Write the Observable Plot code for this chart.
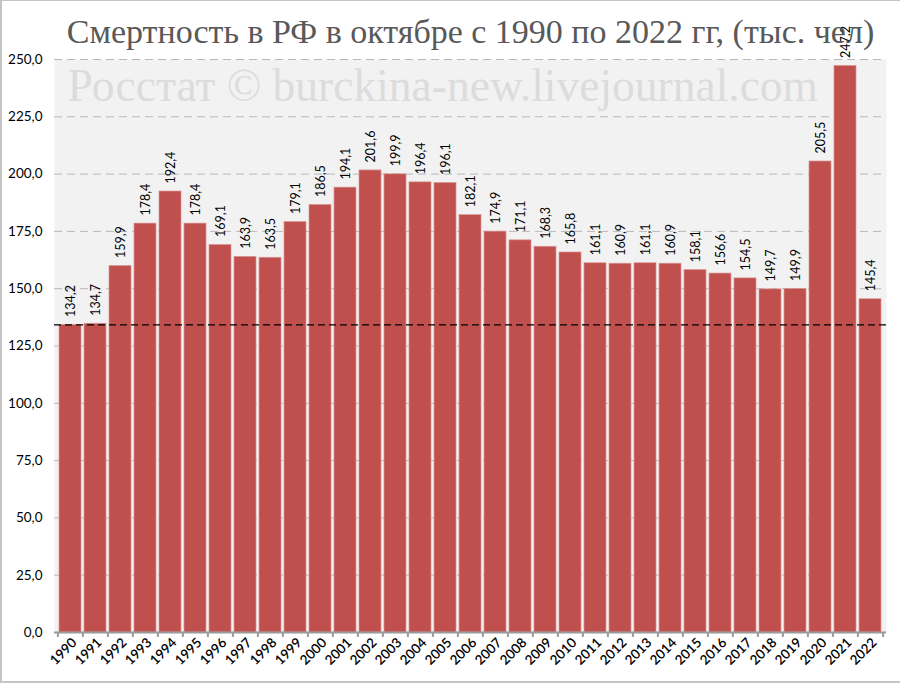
<!DOCTYPE html>
<html><head><meta charset="utf-8">
<script src="https://cdn.jsdelivr.net/npm/d3@7"></script>
<script src="https://cdn.jsdelivr.net/npm/@observablehq/plot@0.6"></script>
<style>
body{margin:0;background:#fff;}
#wrap{position:relative;width:900px;height:683px;overflow:hidden;}
#border{position:absolute;left:0;top:0;width:898px;height:680px;border-left:2px solid #c4c4c4;border-top:1px solid #c4c4c4;border-bottom:2px solid #c4c4c4;pointer-events:none;}
</style></head>
<body><div id="wrap"><div id="border"></div></div>
<script>
const years = ["1990","1991","1992","1993","1994","1995","1996","1997","1998","1999","2000","2001","2002","2003","2004","2005","2006","2007","2008","2009","2010","2011","2012","2013","2014","2015","2016","2017","2018","2019","2020","2021","2022"];
const deaths = [134.2,134.7,159.9,178.4,192.4,178.4,169.1,163.9,163.5,179.1,186.5,194.1,201.6,199.9,196.4,196.1,182.1,174.9,171.1,168.3,165.8,161.1,160.9,161.1,160.9,158.1,156.6,154.5,149.7,149.9,205.5,247.2,145.4];
const yTicks = [0,25,50,75,100,125,150,175,200,225,250];
const baseline = 134.2;
const title = "Смертность в РФ в октябре с 1990 по 2022 гг, (тыс. чел)";
const watermark = "Росстат © burckina-new.livejournal.com";

const data = years.map((y,i)=>({year:y, value:deaths[i]}));
const fmt = v => v.toFixed(1).replace(".", ",");

const W = 900, H = 683, ML = 54, MR = 14, MT = 59, MB = 51;
const PI = 0.12, PO = 0.06;
const step = (W - ML - MR) / (years.length - PI + 2 * PO);

const chart = Plot.plot({
  width: W, height: H,
  marginTop: MT, marginBottom: MB, marginLeft: ML, marginRight: MR,
  style: {fontFamily: "Lato, sans-serif", fontSize: "13px", background: "transparent", overflow: "visible"},
  x: {domain: years, paddingInner: PI, paddingOuter: PO, label: null},
  y: {domain: [0, 250], label: null},
  marks: [
    Plot.frame({fill: "#f2f2f2", stroke: null}),
    Plot.text([watermark], {frameAnchor: "top-left", lineAnchor: "middle", dx: 13, dy: 27, fill: "#dcdcdc", fontSize: 45.5, fontFamily: "Liberation Serif, serif", textAnchor: "start"}),
    Plot.gridY(yTicks.filter(d => d > 0), {stroke: "#b8b8b8", strokeOpacity: 1, strokeDasharray: "8,5", strokeWidth: 1}),
    Plot.barY(data, {x: "year", y: "value", fill: "#c0504d", stroke: "#d99694", strokeWidth: 0.7}),
    Plot.ruleY([baseline], {stroke: "#000", strokeWidth: 1.2, strokeDasharray: "7,4"}),
    Plot.text(data, {x: "year", y: "value", text: d => fmt(d.value), rotate: -90, textAnchor: "start", dy: -8, fontSize: 12.5, fontFamily: "Lato, sans-serif", fill: "#000"}),
    Plot.ruleY([0], {stroke: "#9a9a9a", strokeWidth: 2}),
    Plot.axisX({tickSize: 5, text: null, dx: -step / 2, stroke: "#9a9a9a", strokeWidth: 2}),
    Plot.axisX({ticks: [years[years.length - 1]], tickSize: 5, text: null, dx: step / 2, stroke: "#9a9a9a", strokeWidth: 2}),
    Plot.axisY({ticks: yTicks, tickFormat: fmt, tickSize: 0, tickPadding: 12, fontSize: 13.5, fontFamily: "Lato, sans-serif", fill: "#000"}),
    Plot.axisX({tickSize: 0, tickRotate: -45, tickPadding: 8, fontSize: 13.5, fontFamily: "Lato, sans-serif", fontWeight: 600, fill: "#000", dx: 4}),
    Plot.text([title], {frameAnchor: "top", lineAnchor: "middle", dy: -27, fill: "#595959", fontSize: 34, fontFamily: "Liberation Serif, serif"})
  ]
});
document.getElementById("wrap").prepend(chart);
</script>
</body></html>
